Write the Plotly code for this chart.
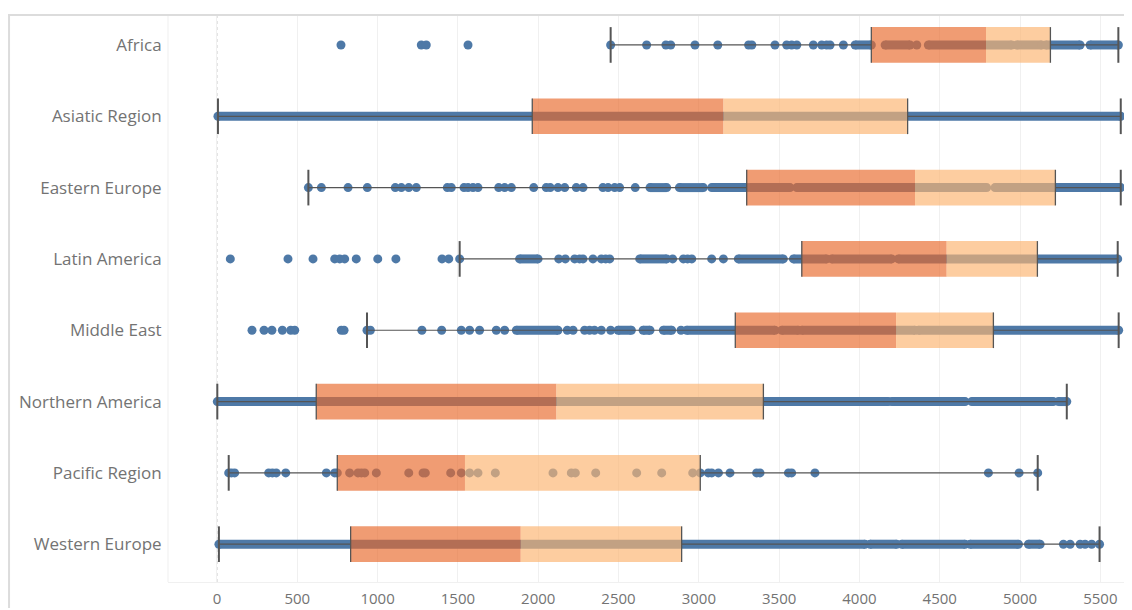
import plotly.graph_objects as go

categories = ["Africa", "Asiatic Region", "Eastern Europe", "Latin America",
              "Middle East", "Northern America", "Pacific Region", "Western Europe"]

# box statistics (value units)
whisker_low = [2451, 6, 569, 1511, 934, 2, 73, 12]
q1 = [4074, 1963, 3298, 3641, 3227, 618, 749, 832]
median = [4788, 3153, 4346, 4543, 4228, 2113, 1544, 1891]
q3 = [5189, 4300, 5220, 5108, 4834, 3402, 3009, 2893]
whisker_high = [5612, 5627, 5627, 5608, 5614, 5291, 5110, 5495]

# individual (sparse) dots per category
pts_africa = [772, 1272, 1303, 1563, 2451, 2675, 2795, 2825, 2976, 3118, 3310, 3330,
              3474, 3547, 3578, 3610, 3713, 3765, 3796, 3817, 3900, 4357]
pts_asiatic = []
pts_eastern_europe = [569, 650, 816, 936, 1110, 1148, 1194, 1241, 1434, 1459, 1538, 1563,
                      1594, 1625, 1754, 1791, 1833, 1972, 2050, 2075, 2123, 2165, 2237,
                      2279, 2403, 2435, 2476, 2507, 2604]
pts_latin_america = [83, 442, 598, 733, 764, 795, 867, 1001, 1114, 1401, 1443, 1511, 2128,
                     2169, 2227, 2258, 2279, 2341, 2393, 2420, 2445, 2837, 2904, 2930,
                     2956, 3080, 3153]
pts_middle_east = [218, 293, 342, 407, 459, 484, 774, 791, 934, 955, 1276, 1399, 1521,
                   1573, 1635, 1739, 1791, 2181, 2217, 2289, 2320, 2350, 2393, 2451, 2889]
pts_northern_america = []
pts_pacific = [73, 90, 110, 322, 345, 369, 428, 681, 733, 749, 826, 878, 899, 920, 992,
               1194, 1283, 1297, 1455, 1521, 1573, 1625, 1733, 2092, 2206, 2231, 2358,
               2613, 2769, 2962, 3009, 3059, 3080, 3122, 3194, 3360, 3381, 3558, 3578,
               3723, 4803, 4994, 5110]
pts_western_europe = [5270, 5312, 5374, 5405, 5446, 5495]

# dense runs of overlapping dots (start, end)
runs_africa = [(3973, 4074), (4160, 4315), (4429, 4948), (4979, 5135), (5160, 5374), (5436, 5612)]
runs_asiatic = [(6, 5627)]
runs_eastern_europe = [(2696, 2800), (2879, 3028), (3080, 3298), (3319, 3568), (3610, 4792), (4844, 5627)]
runs_latin_america = [(1884, 1999), (2632, 2800), (3246, 3526), (3589, 3796), (3827, 4201), (4242, 5608)]
runs_middle_east = [(1864, 2123), (2497, 2580), (2653, 2696), (2779, 2831), (2924, 3474),
                    (3516, 3620), (3641, 4346), (4367, 5614)]
runs_northern_america = [(2, 4180), (4201, 4658), (4699, 5207), (5239, 5291)]
runs_pacific = []
runs_western_europe = [(12, 4035), (4066, 4232), (4263, 4658), (4689, 4990), (5052, 5125)]

x_ticks = [0, 500, 1000, 1500, 2000, 2500, 3000, 3500, 4000, 4500, 5000, 5500]

points = [pts_africa, pts_asiatic, pts_eastern_europe, pts_latin_america,
          pts_middle_east, pts_northern_america, pts_pacific, pts_western_europe]
runs = [runs_africa, runs_asiatic, runs_eastern_europe, runs_latin_america,
        runs_middle_east, runs_northern_america, runs_pacific, runs_western_europe]

DOT = "#4E79A7"
LOWER = "rgb(232,104,43)"
UPPER = "rgb(252,180,113)"
LINE = "#555555"
HALF = 0.25

fig = go.Figure()

# dense runs as thick lines with rounded ends
rx, ry, ex, ey = [], [], [], []
for i, rr in enumerate(runs):
    for a, b in rr:
        rx += [a, b, None]
        ry += [i, i, None]
        ex += [a, b]
        ey += [i, i]
fig.add_trace(go.Scatter(x=rx, y=ry, mode="lines", line=dict(color=DOT, width=9),
                         hoverinfo="skip", showlegend=False))
fig.add_trace(go.Scatter(x=ex, y=ey, mode="markers", marker=dict(color=DOT, size=9),
                         hoverinfo="skip", showlegend=False))

# individual dots
px_, py_ = [], []
for i, pp in enumerate(points):
    px_ += pp
    py_ += [i] * len(pp)
fig.add_trace(go.Scatter(x=px_, y=py_, mode="markers", marker=dict(color=DOT, size=9),
                         showlegend=False))

# whiskers
wx, wy = [], []
for i in range(len(categories)):
    wx += [whisker_low[i], q1[i], None, q3[i], whisker_high[i], None]
    wy += [i, i, None, i, i, None]
fig.add_trace(go.Scatter(x=wx, y=wy, mode="lines", line=dict(color=LINE, width=1.2),
                         hoverinfo="skip", showlegend=False))

shapes = []
for i in range(len(categories)):
    shapes.append(dict(type="rect", xref="x", yref="y", x0=q1[i], x1=median[i],
                       y0=i - HALF, y1=i + HALF, fillcolor=LOWER, opacity=0.66,
                       line=dict(width=0), layer="above"))
    shapes.append(dict(type="rect", xref="x", yref="y", x0=median[i], x1=q3[i],
                       y0=i - HALF, y1=i + HALF, fillcolor=UPPER, opacity=0.67,
                       line=dict(width=0), layer="above"))
    for xv, w in [(q1[i], 1.3), (q3[i], 1.3), (whisker_low[i], 2), (whisker_high[i], 2)]:
        shapes.append(dict(type="line", xref="x", yref="y", x0=xv, x1=xv,
                           y0=i - HALF, y1=i + HALF, line=dict(color=LINE, width=w),
                           layer="above"))

# zero line (dotted)
shapes.append(dict(type="line", xref="x", yref="paper", x0=0, x1=0, y0=0, y1=1,
                   line=dict(color="#c8c8c8", width=1, dash="dot"), layer="below"))
# outer frame (top and left)
shapes.append(dict(type="line", xref="paper", yref="paper", x0=-0.167, x1=1, y0=1, y1=1,
                   line=dict(color="#dcdcdc", width=2), layer="above"))
shapes.append(dict(type="line", xref="paper", yref="paper", x0=-0.1649, x1=-0.1649, y0=1, y1=-0.06,
                   line=dict(color="#dcdcdc", width=2), layer="above"))
# pane left border
shapes.append(dict(type="line", xref="paper", yref="paper", x0=0, x1=0, y0=0, y1=1,
                   line=dict(color="#efefef", width=1), layer="below"))

fig.update_layout(
    width=1124, height=600,
    margin=dict(l=160, r=0, t=7, b=26),
    paper_bgcolor="white", plot_bgcolor="white",
    shapes=shapes,
    font=dict(family="Open Sans", color="#737373"),
    xaxis=dict(range=[-305, 5697], tickvals=x_ticks, ticktext=[str(v) for v in x_ticks],
               showgrid=True, gridcolor="#f0f0f0", gridwidth=1, zeroline=False,
               showline=True, linecolor="#f0f0f0", ticks="outside", ticklen=3,
               tickcolor="rgba(0,0,0,0)", tickfont=dict(size=15, color="#737373")),
    yaxis=dict(range=[7.53, -0.42], tickvals=list(range(len(categories))), ticktext=categories,
               showgrid=False, zeroline=False, ticks="outside", ticklen=2,
               tickcolor="rgba(0,0,0,0)", tickfont=dict(size=17, color="#737373")),
)

fig.write_html("out.html")
